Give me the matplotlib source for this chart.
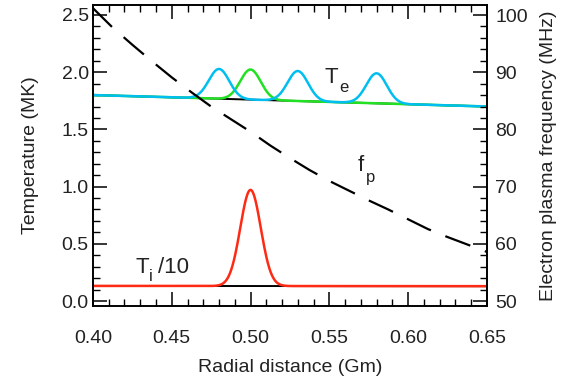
import numpy as np
import matplotlib
matplotlib.use("Agg")
import matplotlib.pyplot as plt
from matplotlib.ticker import MultipleLocator

plt.rcParams['font.family'] = ['Liberation Sans', 'DejaVu Sans']

# electron temperature baseline (MK)
te_r = [0.40, 0.65]
te_base = [1.80, 1.70]
# ion temperature / 10 baseline (MK)
ti_r = [0.40, 0.65]
ti_base = [0.132, 0.130]

# gaussian pulses: centre (Gm), height above baseline (MK), common width
pulse_sigma = 0.0065
cyan_centres = [0.48, 0.53, 0.58]
cyan_heights = [0.26, 0.262, 0.262]
green_centres = [0.50]
green_heights = [0.263]
red_centres = [0.50]
red_heights = [0.84]

# electron plasma frequency (MHz)
fp_r = [0.40, 0.4125, 0.425, 0.4375, 0.45, 0.4625, 0.475, 0.4875, 0.50, 0.5125, 0.525,
        0.5375, 0.55, 0.5625, 0.575, 0.5875, 0.60, 0.6125, 0.625, 0.6375, 0.65]
fp_val = [101.2, 97.8, 94.8, 91.9, 89.1, 86.5, 84.0, 81.8, 79.6, 77.2, 75.0,
          72.9, 71.0, 69.3, 67.6, 66.0, 64.3, 62.6, 61.2, 59.9, 58.6]


def pulsed(base_r, base_v, centres, heights):
    r = np.linspace(base_r[0], base_r[-1], 1001)
    v = np.interp(r, base_r, base_v)
    for c, h in zip(centres, heights):
        v = v + h * np.exp(-0.5 * ((r - c) / pulse_sigma) ** 2)
    return r, v


fig = plt.figure(figsize=(5.81, 3.85), dpi=100)
ax = fig.add_axes([0.160, 0.205, 0.678, 0.782])

ax.plot(te_r, te_base, color='black', lw=1.4)
ax.plot(ti_r, ti_base, color='black', lw=1.4)

r, v = pulsed(te_r, te_base, green_centres, green_heights)
ax.plot(r, v, color='#22e022', lw=1.8)
r, v = pulsed(te_r, te_base, cyan_centres, cyan_heights)
ax.plot(r, v, color='#00bff0', lw=1.8)
r, v = pulsed(ti_r, ti_base, red_centres, red_heights)
ax.plot(r, v, color='#ff2a14', lw=1.8)

ax.set_xlim(0.40, 0.65)
ax.set_ylim(-0.044, 2.587)

ax2 = ax.twinx()
ax2.plot(fp_r, fp_val, color='black', lw=1.6, dashes=(12, 7))
ax2.set_ylim(49.13, 101.75)

txt = '#222222'
ax.set_xticks([0.40, 0.45, 0.50, 0.55, 0.60, 0.65])
ax.set_xticklabels(['0.40', '0.45', '0.50', '0.55', '0.60', '0.65'])
ax.xaxis.set_minor_locator(MultipleLocator(0.01))
ax.set_yticks([0.0, 0.5, 1.0, 1.5, 2.0, 2.5])
ax.set_yticklabels(['0.0', '0.5', '1.0', '1.5', '2.0', '2.5'])
ax.yaxis.set_minor_locator(MultipleLocator(0.1))
ax2.set_yticks([50, 60, 70, 80, 90, 100])
ax2.yaxis.set_minor_locator(MultipleLocator(2))

ax.tick_params(axis='x', which='both', direction='in', top=True, labelsize=14,
               labelcolor=txt, pad=17)
ax.tick_params(axis='y', which='both', direction='in', labelsize=14,
               labelcolor=txt, pad=3)
ax2.tick_params(axis='y', which='both', direction='in', labelsize=14,
                labelcolor=txt, pad=6)
for a in (ax, ax2):
    a.tick_params(which='major', length=10, width=1.1)
    a.tick_params(which='minor', length=5, width=1.0)
    for s in a.spines.values():
        s.set_linewidth(1.2)

ax.set_xlabel('Radial distance (Gm)', fontsize=14, color=txt, labelpad=9)
ax.set_ylabel('Temperature (MK)', fontsize=14, color=txt, labelpad=16)
ax2.set_ylabel('Electron plasma frequency (MHz)', fontsize=14, color=txt,
               labelpad=9)

big = 16
small = 12
ax.text(0.5472, 1.903, 'T', fontsize=big, color=txt, va='baseline')
ax.text(0.5565, 1.830, 'e', fontsize=small, color=txt, va='baseline')
ax.text(0.568, 1.139, 'f', fontsize=big, color=txt, va='baseline')
ax.text(0.5735, 1.043, 'p', fontsize=small, color=txt, va='baseline')
ax.text(0.4267, 0.242, 'T', fontsize=big, color=txt, va='baseline')
ax.text(0.4355, 0.177, 'i', fontsize=small, color=txt, va='baseline')
ax.text(0.4414, 0.242, '/10', fontsize=big, color=txt, va='baseline')

fig.savefig('out.png', dpi=100)
